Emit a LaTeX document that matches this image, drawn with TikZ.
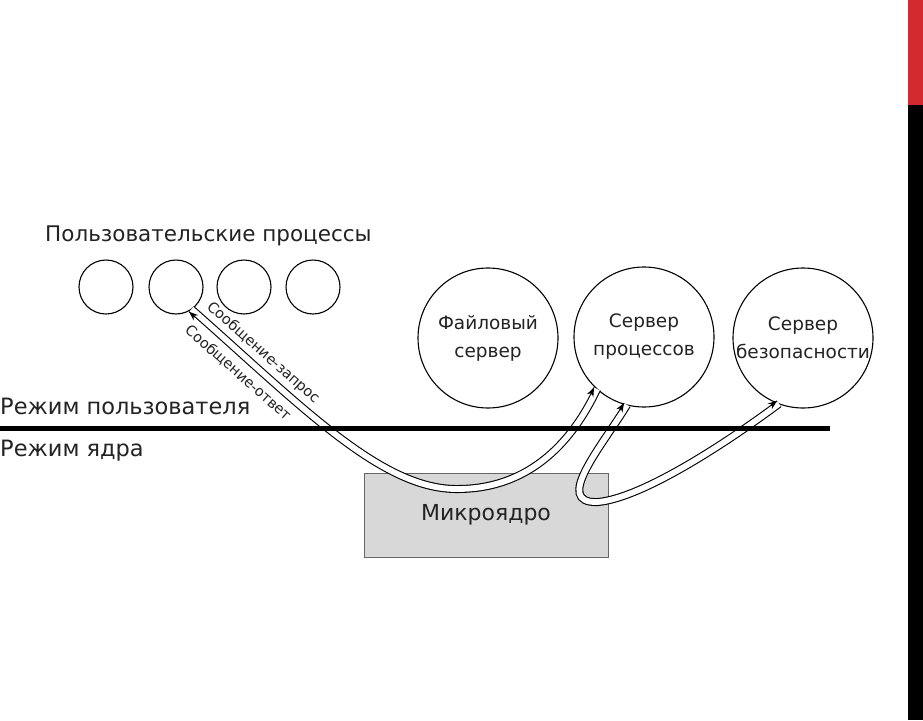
\documentclass[tikz,border=0pt]{standalone}
\usepackage{fontspec}
\setmainfont{DejaVu Sans}
\usetikzlibrary{arrows.meta,calc}
\definecolor{barred}{RGB}{210,42,46}
\definecolor{boxgray}{RGB}{216,216,216}
\definecolor{txtgray}{RGB}{35,35,35}
\begin{document}
\begin{tikzpicture}[x=1pt,y=-1pt,
  lbl/.style={font=\fontsize{22.5}{26}\selectfont, text=txtgray, inner sep=0pt, anchor=west},
  ttlstyle/.style={font=\fontsize{21.5}{25}\selectfont, text=txtgray, inner sep=0pt, anchor=west},
  ucirc/.style={circle, draw=black, line width=1.1pt, minimum size=54pt, inner sep=0pt, outer sep=0pt},
  scirc/.style={circle, draw=black, line width=1.1pt, minimum size=140pt, inner sep=0pt, outer sep=0pt,
    align=center, text=txtgray, font=\fontsize{18.5}{28}\selectfont},
  kernel/.style={draw=black!60, line width=0.8pt, fill=boxgray, minimum width=244pt, minimum height=84pt,
    inner sep=0pt, text=txtgray, font=\fontsize{22}{26}\selectfont},
  tube/.style={draw=black, line width=1.1pt, double=white, double distance=5.8pt},
  tiparrow/.style={-{Stealth[length=9pt,width=7pt]}, line width=1.1pt},
  msg/.style={font=\fontsize{14.5}{17}\selectfont, text=txtgray, inner sep=0pt, rotate=-41.4}
]
\useasboundingbox (0,0) rectangle (923,720);
\fill[white] (0,0) rectangle (923,720);

% side bars
\fill[barred] (908,0) rectangle (923,105);
\fill[black] (908,105) rectangle (923,720);

% microkernel
\node[kernel] (mk) at (486,515) {Микроядро};

% user processes
\node[ucirc] (u1) at (106,287) {};
\node[ucirc] (u2) at (176,287) {};
\node[ucirc] (u3) at (244,287) {};
\node[ucirc] (u4) at (313,287) {};
\node[ttlstyle] (ttl) at (45,236) {Пользовательские процессы};

% servers
\node[scirc] (fs) at (488,338) {Файловый\\сервер};
\node[scirc] (ps) at (644,337) {Сервер\\процессов};
\node[scirc] (ss) at (803,338) {Сервер\\безопасности};

% tube 1: user process <-> process server
\coordinate (t1a) at (u2.305);
\coordinate (t1b) at (ps.228);
\draw[tube] (t1a) .. controls (297,402) and (379,488) .. (455,489)
                  .. controls (532,490) and (574,438) .. (t1b);
\coordinate (a1s) at (195.1,317.1);
\coordinate (a1e) at (189.1,311.8);
\draw[tiparrow] (a1s) -- (a1e);
\coordinate (a2s) at (590.6,394.7);
\coordinate (a2e) at (594.0,387.5);
\draw[tiparrow] (a2s) -- (a2e);

% tube 2: process server <-> security server
\coordinate (t2a) at (ps.256);
\coordinate (t2b) at (ss.250);
\draw[tube] (t2a) .. controls (602,446) and (552,504) .. (598,502)
                  .. controls (642,498) and (725,444) .. (t2b);
\coordinate (a3s) at (619.9,410.0);
\coordinate (a3e) at (624.0,403.1);
\draw[tiparrow] (a3s) -- (a3e);
\coordinate (a4s) at (770.6,405.7);
\coordinate (a4e) at (777.0,400.9);
\draw[tiparrow] (a4s) -- (a4e);

% mode boundary
\coordinate (bl) at (0,428);
\coordinate (br) at (830,428);
\draw[line width=5pt] (bl) -- (br);
\node[lbl] (um) at (0,406) {Режим пользователя};
\node[lbl] (km) at (0,451) {Режим ядра};

% message labels
\node[msg] (req) at (263,353) {Сообщение-запрос};
\node[msg] (rsp) at (238,373) {Сообщение-ответ};
\end{tikzpicture}
\end{document}
